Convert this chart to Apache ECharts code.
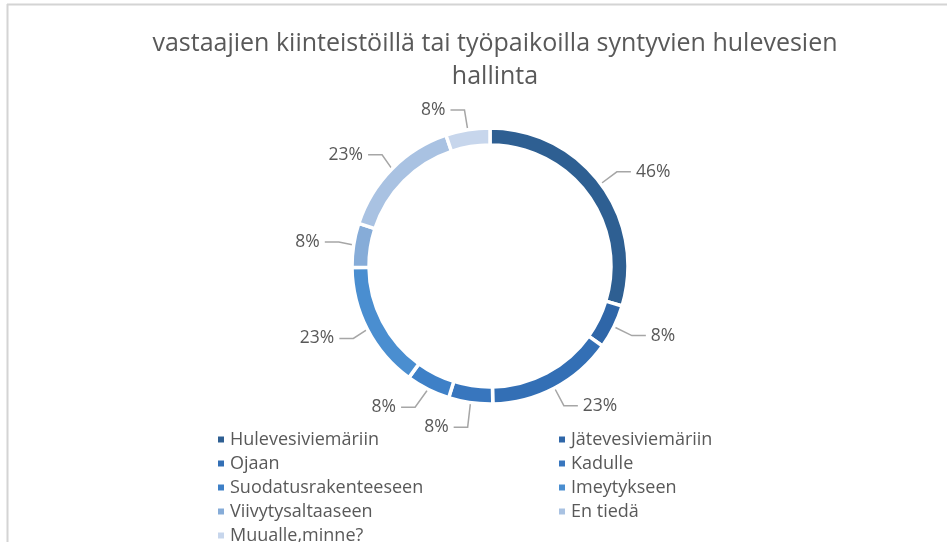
<!DOCTYPE html>
<html>
<head>
<meta charset="utf-8">
<script src="https://cdn.jsdelivr.net/npm/echarts@6/dist/echarts.min.js"></script>
<style>
html,body{margin:0;padding:0;background:#fff;}
#chart{width:947px;height:542px;}
</style>
</head>
<body>
<div id="chart"></div>
<script>
var titleText = 'vastaajien kiinteistöillä tai työpaikoilla syntyvien hulevesien\nhallinta';
var categories = ['Hulevesiviemäriin','Jätevesiviemäriin','Ojaan','Kadulle','Suodatusrakenteeseen','Imeytykseen','Viivytysaltaaseen','En tiedä','Muualle,minne?'];
var percents = [46, 8, 23, 8, 8, 23, 8, 23, 8];
var colors = ['#2e5f92','#2f66a8','#336fb5','#3876be','#3e80c7','#4a8ed0','#86acd8','#a9c2e2','#c7d6ec'];

var chart = echarts.init(document.getElementById('chart'), null, {renderer:'canvas'});
var data = categories.map(function(c,i){ return {name:c, value:percents[i], itemStyle:{color:colors[i]}}; });
var FONT = '"Open Sans", "Noto Sans", sans-serif';
chart.setOption({
  backgroundColor:'#ffffff',
  animation:false,
  graphic:[
    {type:'line', shape:{x1:7, y1:4.5, x2:947, y2:4.5}, style:{stroke:'#d4d4d4', lineWidth:2}},
    {type:'line', shape:{x1:7.5, y1:4, x2:7.5, y2:542}, style:{stroke:'#d4d4d4', lineWidth:2}}
  ],
  title:{
    text:titleText,
    left:490, textAlign:'center', top:22,
    textStyle:{fontFamily:FONT, fontSize:25, fontWeight:'normal', color:'#595959', lineHeight:33}
  },
  legend:{
    orient:'horizontal',
    left:211, top:425, width:700,
    icon:'rect', itemWidth:8, itemHeight:8, itemGap:5,
    selectedMode:false,
    textStyle:{fontFamily:FONT, fontSize:18, color:'#595959', width:322, lineHeight:19, padding:[0,0,0,0]},
    data:categories
  },
  series:[{
    type:'pie',
    center:[490,266],
    radius:[121,138],
    startAngle:90,
    clockwise:true,
    avoidLabelOverlap:true,
    itemStyle:{borderColor:'#ffffff', borderWidth:3.5},
    label:{show:true, formatter:'{c}%', fontFamily:FONT, fontSize:17.5, color:'#595959'},
    labelLine:{show:true, length:20, length2:14, lineStyle:{color:'#a6a6a6', width:1.5}},
    data:data
  }]
});
</script>
</body>
</html>
